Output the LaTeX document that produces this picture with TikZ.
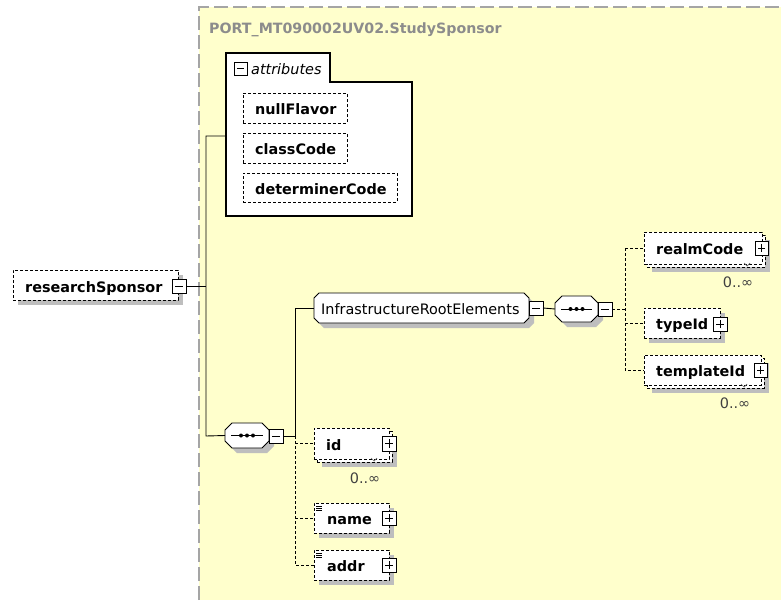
\documentclass[tikz,border=0pt]{standalone}
\usepackage{fontspec}
\setmainfont{DejaVu Sans}
\usetikzlibrary{fit,calc}
\definecolor{yel}{RGB}{255,255,204}
\definecolor{shc}{RGB}{190,190,190}
\definecolor{bordc}{RGB}{165,165,165}
\definecolor{titc}{RGB}{140,140,140}
\pgfdeclarelayer{bgl}\pgfdeclarelayer{shl}\pgfsetlayers{bgl,shl,main}
\newcommand\octo[2]{([xshift=#2]#1.north west) -- ([xshift=-#2]#1.north east) -- ([yshift=-#2]#1.north east) -- ([yshift=#2]#1.south east) -- ([xshift=-#2]#1.south east) -- ([xshift=#2]#1.south west) -- ([yshift=#2]#1.south west) -- ([yshift=-#2]#1.north west) -- cycle}
\newcommand\mkicon[6]{%
  \fill[black] (#2+1.3,#3+1.3) rectangle (#4+1.3,#5+1.3);
  \node[icon, fit={(#2,#3) (#4,#5)}] (#1) {};
  \draw[line width=1pt] ([xshift=3pt]#1.west) -- ([xshift=-3pt]#1.east);
  \ifx#6p\draw[line width=1pt] ([yshift=-3pt]#1.north) -- ([yshift=3pt]#1.south);\fi
}
\newcommand\seqicon[1]{%
  \draw[line width=1pt] ([xshift=6pt]#1.west) -- ([xshift=-6pt]#1.east);
  \fill ([xshift=-6pt]#1.center) circle (2pt) (#1.center) circle (2pt) ([xshift=6pt]#1.center) circle (2pt);
}
\newcommand\chev[2]{\draw[black!60, line width=0.7pt] (#1-3,#2-2) -- (#1,#2+1) -- (#1+3,#2-2);}
\newcommand\ficon[2]{\draw[line width=0.6pt] (#1,#2) -- (#1+6,#2) (#1,#2+2) -- (#1+6,#2+2) (#1,#2+4) -- (#1+6,#2+4);}
\begin{document}
\begin{tikzpicture}[x=1pt,y=-1pt,
  font=\fontsize{14.4}{16}\selectfont,
  box/.style={inner sep=0pt, outer sep=0pt},
  elem/.style={box, draw=black, line width=0.9pt, dash pattern=on 3pt off 2pt, fill=white},
  lbl/.style={anchor=base west, inner sep=0pt, font=\fontsize{14.4}{16}\selectfont\bfseries},
  glbl/.style={anchor=base west, inner sep=0pt, font=\fontsize{14.4}{16}\selectfont},
  conn/.style={draw=black, line width=0.9pt},
  dconn/.style={conn, dash pattern=on 3pt off 2pt},
  icon/.style={box, draw=black, line width=1pt, fill=white},
  grp/.style={draw=black, line width=0.9pt, fill=white},
  occ/.style={anchor=center, inner sep=0pt, text=black!75, font=\fontsize{14.4}{16}\selectfont}
]
\useasboundingbox (0,0) rectangle (781,600);
\begin{pgfonlayer}{bgl}
  \fill[yel] (199,7) rectangle (781,600);
  \draw[bordc, line width=1.5pt, dash pattern=on 14pt off 5pt] (199,600) -- (199,7) -- (781,7);
\end{pgfonlayer}

% title
\node[anchor=base west, inner sep=0pt, text=titc, font=\fontsize{14.2}{16}\selectfont\bfseries] (title) at (209,33) {PORT\_MT090002UV02.StudySponsor};

% attributes
\node[box, fit={(226,53) (330,82)}] (attrtab) {};
\node[box, fit={(226,82) (412,216)}] (attrbody) {};
\draw[line width=1.2pt, fill=white] (attrbody.south west) -- (attrtab.north west) -- (attrtab.north east) -- (attrtab.south east) -- (attrbody.north east) -- (attrbody.south east) -- cycle;
\mkicon{attrm}{234}{62}{247}{75}{m}
\node[glbl, font=\fontsize{14.4}{16}\selectfont\itshape] (attrt) at (251,74) {attributes};

\node[elem, fit={(243,93) (347,123)}] (nf) {};
\node[lbl] (nft) at (255,114) {nullFlavor};
\node[elem, fit={(243,133) (347,163)}] (cc) {};
\node[lbl] (cct) at (255,154) {classCode};
\node[elem, fit={(243,173) (397,202)}] (dc) {};
\node[lbl] (dct) at (255,194) {determinerCode};

% researchSponsor
\node[elem, fit={(13,270) (178,300)}] (rs) {};
\node[lbl] (rst) at (25,292) {researchSponsor};
\mkicon{rsm}{172}{279}{186}{293}{m}

% sequence a
\node[box, fit={(225,423) (269,448)}] (seqa) {};
\filldraw[grp] \octo{seqa}{7pt};
\seqicon{seqa}
\mkicon{seqam}{269}{429}{283}{443}{m}

% InfrastructureRootElements
\node[box, fit={(314,293) (529,323)}] (ire) {};
\filldraw[grp] \octo{ire}{5pt};
\node[glbl] (iret) at (321,314) {InfrastructureRootElements};
\mkicon{irem}{529}{301}{543}{315}{m}

% sequence b
\node[box, fit={(555,296) (598,322)}] (seqb) {};
\filldraw[grp] \octo{seqb}{7pt};
\seqicon{seqb}
\mkicon{seqbm}{598}{302}{612}{316}{m}

% realmCode
\node[elem, fit={(647,235) (765,267)}] (rcb) {};
\node[elem, fit={(644,232) (762,264)}] (rcf) {};
\node[lbl] (rct) at (656,254) {realmCode};
\mkicon{rcp}{755}{241}{768}{255}{p}
\chev{747}{265}
\node[occ] (rco) at (738,282) {0..∞};

% typeId
\node[elem, fit={(644,308) (720,338)}] (ti) {};
\node[lbl] (tit) at (656,329) {typeId};
\mkicon{tip}{713}{317}{727}{331}{p}

% templateId
\node[elem, fit={(647,358) (764,388)}] (tib) {};
\node[elem, fit={(644,355) (761,385)}] (tif) {};
\node[lbl] (tift) at (656,376) {templateId};
\mkicon{tibp}{754}{363}{767}{377}{p}
\chev{744}{386}
\node[occ] (tio) at (735,403) {0..∞};

% id
\node[elem, fit={(317,431) (392,462)}] (idb) {};
\node[elem, fit={(314,428) (389,459)}] (idf) {};
\node[lbl] (idt) at (326,450) {id};
\mkicon{idp}{382}{436}{396}{451}{p}
\chev{374}{460}
\node[occ] (ido) at (365,478) {0..∞};

% name
\node[elem, fit={(314,503) (389,533)}] (nm) {};
\ficon{316}{506}
\node[lbl] (nmt) at (327,524) {name};
\mkicon{nmp}{382}{511}{396}{525}{p}

% addr
\node[elem, fit={(314,550) (389,580)}] (ad) {};
\ficon{316}{553}
\node[lbl] (adt) at (327,571) {addr};
\mkicon{adp}{382}{558}{396}{572}{p}

% connectors
\coordinate (ja) at (206,136);
\coordinate (jb) at (206,436);
\coordinate (jc) at (295,436);
\coordinate (jd) at (295,308);
\coordinate (je) at (295,565);
\coordinate (jf) at (625,309);
\draw[conn] (rsm.east) -- (rsm.east -| ja);
\draw[conn] (attrbody.west |- ja) -- (ja) -- (jb) -- (seqa.west);
\draw[conn] (seqam.east) -- (jc) -- (jd) -- (ire.west);
\draw[dconn] (jc) -- (je) -- (ad.west);
\draw[dconn] (jc |- idf.west) -- (idf.west);
\draw[dconn] (jc |- nm.west) -- (nm.west);
\draw[conn] (irem.east) -- (seqb.west);
\draw[dconn] (seqbm.east) -- (jf);
\draw[dconn] (jf |- rcf.west) -- (rcf.west);
\draw[dconn] (jf |- rcf.west) -- (jf |- tif.west) -- (tif.west);
\draw[dconn] (jf |- ti.west) -- (ti.west);

% shadows
\begin{pgfonlayer}{shl}
  \foreach \n in {rs,nf,cc,dc,rcb,ti,tib,idb,nm,ad}
    \fill[shc] ([shift={(5,5)}]\n.south west) rectangle ([shift={(5,5)}]\n.north east);
  \fill[shc, transform canvas={shift={(5pt,-5pt)}}] \octo{ire}{5pt};
  \fill[shc, transform canvas={shift={(5pt,-5pt)}}] \octo{seqa}{7pt};
  \fill[shc, transform canvas={shift={(5pt,-5pt)}}] \octo{seqb}{7pt};
\end{pgfonlayer}
\end{tikzpicture}
\end{document}
